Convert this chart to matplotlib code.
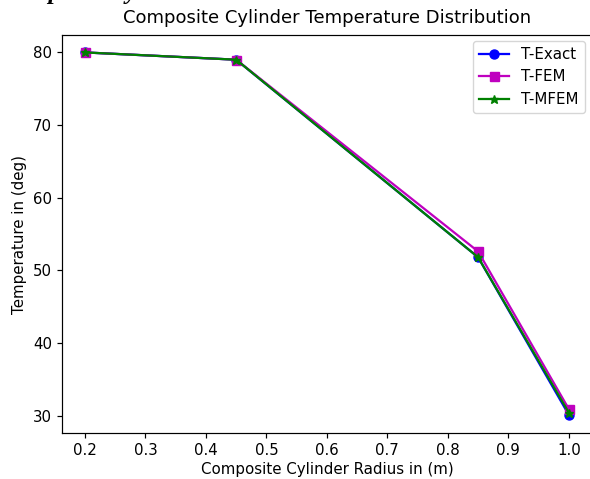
import matplotlib
matplotlib.use("Agg")
import matplotlib.pyplot as plt

radius = [0.2, 0.45, 0.85, 1.0]
t_exact = [80.0, 79.0, 51.8, 30.1]
t_fem = [80.0, 79.0, 52.6, 30.9]
t_mfem = [80.0, 79.0, 51.8, 30.4]

s = 1.08
plt.rcParams.update({
    'font.size': 10 * s,
    'axes.titlesize': 12 * s,
    'lines.linewidth': 1.5 * s,
    'lines.markersize': 6 * s,
    'axes.linewidth': 0.8 * s,
    'xtick.major.size': 3.5 * s,
    'ytick.major.size': 3.5 * s,
    'xtick.major.width': 0.8 * s,
    'ytick.major.width': 0.8 * s,
})

W, H = 590, 479
fig = plt.figure(figsize=(W / 100, H / 100), dpi=100)
ax = fig.add_axes([62 / W, 1 - 433 / H, (593 - 62) / W, (433 - 35) / H])

ax.plot(radius, t_exact, 'b-o', label='T-Exact')
ax.plot(radius, t_fem, 'm-s', label='T-FEM')
ax.plot(radius, t_mfem, 'g-*', label='T-MFEM')

ax.set_xlim(0.162, 1.04)
ax.set_ylim(27.6, 82.4)
ax.set_xticks([0.2, 0.3, 0.4, 0.5, 0.6, 0.7, 0.8, 0.9, 1.0])
ax.set_yticks([30, 40, 50, 60, 70, 80])
ax.set_title('Composite Cylinder Temperature Distribution', pad=8.5)
ax.set_xlabel('Composite Cylinder Radius in (m)', labelpad=2.5)
ax.set_ylabel('Temperature in (deg)')
ax.legend(loc='upper right', bbox_to_anchor=(0.999, 1.004))

fig.text(0.0, 1 + 1 / H, 'Composite cylinder', fontsize=18, fontweight='bold',
         fontstyle='italic', family='Liberation Serif', va='baseline', ha='left')

fig.savefig('out.png', dpi=100)
